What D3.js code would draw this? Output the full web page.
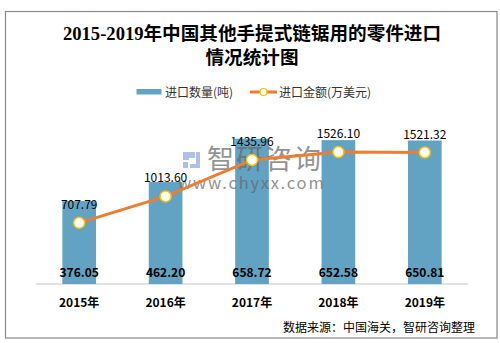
<!DOCTYPE html>
<html><head><meta charset="utf-8">
<script src="https://cdn.jsdelivr.net/npm/d3@7"></script>
<style>body{margin:0;background:#fff}svg{display:block}</style>
</head><body>
<svg id="c" width="500" height="343"></svg>
<script>
const categories = ["2015年","2016年","2017年","2018年","2019年"];
const quantity = [376.05, 462.20, 658.72, 652.58, 650.81];
const amount = [707.79, 1013.60, 1435.96, 1526.10, 1521.32];
const seriesNames = ["进口数量(吨)", "进口金额(万美元)"];
const titleLines = ["2015-2019年中国其他手提式链锯用的零件进口", "情况统计图"];
const sourceText = "数据来源：中国海关，智研咨询整理";

const svg = d3.select("#c");
const sans = "'Microsoft YaHei','Noto Sans CJK SC','DejaVu Sans',sans-serif";
const serif = "'Liberation Serif','Noto Sans CJK SC',serif";
const barColor = "#62a3c3", lineColor = "#ed7d31", markerStroke = "#ffc000";

svg.append("rect").attr("x",5.5).attr("y",11.5).attr("width",491.5).attr("height",326.5)
  .attr("fill","#fff").attr("stroke","#888").attr("stroke-width",1.2);

svg.selectAll(".title").data(titleLines).enter().append("text")
  .attr("x",252).attr("y",(d,i)=>40+i*24).attr("text-anchor","middle")
  .attr("font-family",serif).attr("font-weight","bold").attr("font-size",18.6).attr("fill","#000")
  .text(d=>d);

const x = d3.scaleBand().domain(categories).range([36,468]).paddingInner(0.61).paddingOuter(0.305);
const yBar = d3.scaleLinear().domain([0,780]).range([284,112]);
const yLine = d3.scaleLinear().domain([0,1990]).range([284,112]);

// axis
const xAxis = svg.append("g").attr("transform","translate(0,284)").call(d3.axisBottom(x).tickSize(0).tickPadding(14));
xAxis.select(".domain").attr("stroke","#d9d9d9").attr("stroke-width",1.5).attr("d","M36,0H468");
xAxis.selectAll("text").attr("font-family",sans).attr("font-weight","bold").attr("font-size",12).attr("fill","#000");

// bars
svg.selectAll(".bar").data(quantity).enter().append("rect")
  .attr("x",(d,i)=>x(categories[i])).attr("width",x.bandwidth())
  .attr("y",d=>yBar(d)).attr("height",d=>yBar(0)-yBar(d)).attr("fill",barColor);

// watermark
const wm = svg.append("g").attr("opacity",0.7);
wm.append("path").attr("d","M183,152h12v6h-6v2h-6zM183,162h5v6h-5zM196,152h4v16h-10v-4h6z").attr("fill","#8aa8d8");
wm.append("text").attr("x",207).attr("y",169).attr("font-family",sans).attr("font-size",27)
  .attr("letter-spacing",2).attr("fill","#666").text("智研咨询");
wm.append("text").attr("x",178).attr("y",189).attr("font-family",sans).attr("font-size",16.5)
  .attr("letter-spacing",1.8).attr("fill","#666").text("www.chyxx.com");

// line
const cx = (d,i)=>x(categories[i])+x.bandwidth()/2;
svg.append("path").datum(amount)
  .attr("d",d3.line().x(cx).y(d=>yLine(d)))
  .attr("fill","none").attr("stroke",lineColor).attr("stroke-width",3);
svg.selectAll(".pt").data(amount).enter().append("circle")
  .attr("cx",cx).attr("cy",d=>yLine(d)).attr("r",5.5)
  .attr("fill","#fff").attr("stroke",markerStroke).attr("stroke-width",1.5);

// labels
svg.selectAll(".lbl").data(amount).enter().append("text")
  .attr("x",cx).attr("y",d=>yLine(d)-14).attr("text-anchor","middle")
  .attr("font-family",sans).attr("font-size",12).attr("fill","#000").text(d=>d.toFixed(2));
svg.selectAll(".blbl").data(quantity).enter().append("text")
  .attr("x",cx).attr("y",277).attr("text-anchor","middle")
  .attr("font-family",sans).attr("font-weight","bold").attr("font-size",12).attr("fill","#000").text(d=>d.toFixed(2));

// legend
const lg = svg.append("g");
lg.append("rect").attr("x",136.5).attr("y",89).attr("width",25).attr("height",5.5).attr("fill",barColor);
lg.append("text").attr("x",165).attr("y",96.5).attr("font-family",sans).attr("font-size",12).attr("fill","#333").text(seriesNames[0]);
lg.append("line").attr("x1",250).attr("x2",277).attr("y1",92).attr("y2",92).attr("stroke",lineColor).attr("stroke-width",3);
lg.append("circle").attr("cx",263.5).attr("cy",92).attr("r",3.5).attr("fill","#fff").attr("stroke",markerStroke).attr("stroke-width",1.2);
lg.append("text").attr("x",279).attr("y",96.5).attr("font-family",sans).attr("font-size",12).attr("fill","#333").text(seriesNames[1]);

svg.append("text").attr("x",475).attr("y",332).attr("text-anchor","end")
  .attr("font-family",sans).attr("font-size",12).attr("fill","#000").text(sourceText);
</script>
</body></html>
